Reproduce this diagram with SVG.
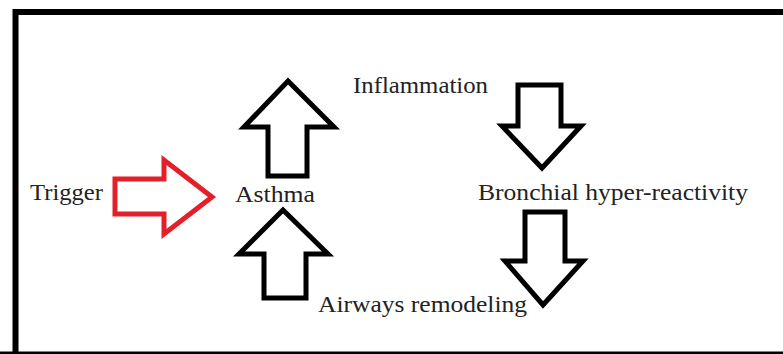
<svg xmlns="http://www.w3.org/2000/svg" width="783" height="354" viewBox="0 0 783 354">
<style>
.lbl{font-family:"Liberation Serif","Times New Roman",serif;font-size:23px;fill:#222}
.arr{fill:none;stroke:#000;stroke-width:5;stroke-linejoin:miter}
.red{fill:none;stroke:#e3202a;stroke-width:5;stroke-linejoin:miter}
</style>
<rect x="0" y="0" width="783" height="354" fill="#fff"/>
<path d="M15.5,360 L15.5,12 L790,12" fill="none" stroke="#000" stroke-width="6"/>
<line x1="0" y1="354" x2="783" y2="354" stroke="#000" stroke-width="5"/>
<g id="connectors">
<path class="red" d="M115,179 L164,179 L164,160 L212,197 L164,234 L164,214 L115,214 Z"/>
<path class="arr" d="M288,81 L334,127 L307,127 L307,176 L268,176 L268,127 L244,127 Z"/>
<path class="arr" d="M283,210 L328,254 L306,254 L306,298 L264,298 L264,254 L239,254 Z"/>
<path class="arr" d="M518,85 L561,85 L561,126 L581,126 L542,168 L502,126 L518,126 Z"/>
<path class="arr" d="M525,212 L565,212 L565,261 L583,261 L543,305 L505,261 L525,261 Z"/>
</g>
<g id="trigger"><text class="lbl" x="30" y="200" textLength="73" lengthAdjust="spacingAndGlyphs">Trigger</text></g>
<g id="asthma"><text class="lbl" x="235" y="202" textLength="80" lengthAdjust="spacingAndGlyphs">Asthma</text></g>
<g id="inflammation"><text class="lbl" x="353" y="93" textLength="135" lengthAdjust="spacingAndGlyphs">Inflammation</text></g>
<g id="bronchial"><text class="lbl" x="478" y="200" textLength="270" lengthAdjust="spacingAndGlyphs">Bronchial hyper-reactivity</text></g>
<g id="airways"><text class="lbl" x="318" y="312" textLength="209" lengthAdjust="spacingAndGlyphs">Airways remodeling</text></g>
</svg>
